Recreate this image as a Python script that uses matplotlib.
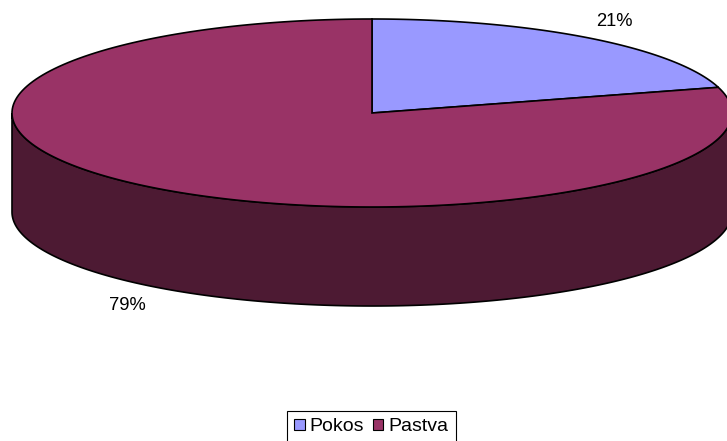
import numpy as np
import matplotlib.pyplot as plt
from matplotlib.patches import Polygon, Patch

# data
categories = ["Pokos", "Pastva"]
shares = [20.6, 79.4]
labels = ["21%", "79%"]
colors = ["#9999FF", "#993366"]
side_color = "#4D1A33"

# pie geometry in pixels
cx, cy = 372, 113
rx, ry = 360, 94
depth = 99
font = "Liberation Sans"


def rim(a0, a1, n=200):
    # angles are clockwise from the top of the pie
    a = np.radians(np.linspace(a0, a1, n))
    return np.column_stack([cx + rx * np.sin(a), cy - ry * np.cos(a)])


fig = plt.figure(figsize=(7.27, 4.41), dpi=100)
ax = fig.add_axes([0, 0, 1, 1])
ax.set_xlim(0, 727)
ax.set_ylim(441, 0)
ax.axis("off")

# side wall, front half only
front = rim(90, 270)
wall = np.vstack([front, front[::-1] + [0, depth]])
ax.add_patch(Polygon(wall, closed=True, facecolor=side_color, edgecolor="black", linewidth=1.2))

# top slices
start = 0
for share, color in zip(shares, colors):
    end = start + share / sum(shares) * 360
    pts = np.vstack([[cx, cy], rim(start, end)])
    ax.add_patch(Polygon(pts, closed=True, facecolor=color, edgecolor="black", linewidth=1.2))
    start = end

ax.text(614.5, 22, labels[0], ha="center", va="center", fontsize=13.2, family=font)
ax.text(127.5, 305, labels[1], ha="center", va="center", fontsize=13.2, family=font)

handles = [Patch(facecolor=c, edgecolor="black", linewidth=0.8) for c in colors]
leg = ax.legend(handles, categories, loc="upper left", bbox_to_anchor=(287 / 727, 1 - 411 / 441),
                ncol=2, fancybox=False, framealpha=1, edgecolor="black", borderaxespad=0,
                prop={"family": font, "size": 14}, handlelength=0.52, handleheight=0.52,
                handletextpad=0.26, columnspacing=0.47, borderpad=0.38)
leg.get_frame().set_linewidth(0.8)

fig.savefig("out.png", dpi=100)
